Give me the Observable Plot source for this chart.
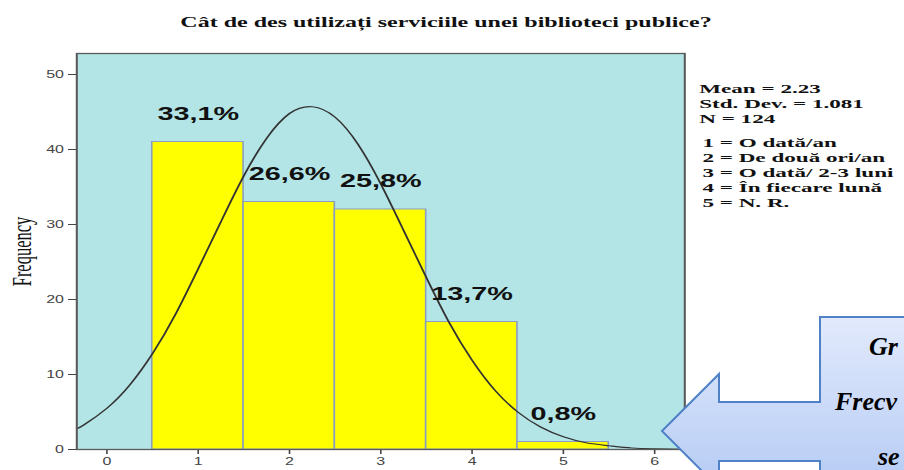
<!DOCTYPE html>
<html>
<head>
<meta charset="utf-8">
<script src="https://cdn.jsdelivr.net/npm/d3@7"></script>
<script src="https://cdn.jsdelivr.net/npm/@observablehq/plot@0.6"></script>
<style>
  html, body { margin: 0; padding: 0; background: #fff; width: 904px; height: 470px; overflow: hidden; }
  #page { position: relative; width: 904px; height: 470px; overflow: hidden; }
  #stretch { position: absolute; left: 0; top: 0; width: 565px; height: 470px; transform: scaleX(1.6); transform-origin: 0 0; }
  #chart { position: absolute; left: 0; top: 0; }
  #title { position: absolute; left: 0; width: 557.5px; top: 14px; line-height: 16px; text-align: center;
           font-family: "Liberation Serif", "DejaVu Serif", serif; font-weight: bold; font-size: 15px; color: #111; }
  .legend { position: absolute; font-family: "Liberation Serif", "DejaVu Serif", serif; font-weight: bold;
            font-size: 13.5px; line-height: 15px; color: #111; white-space: nowrap;
            transform: scaleX(1.07); transform-origin: 0 0; }
  #arrow { position: absolute; left: 0; top: 0; }
</style>
</head>
<body>
<div id="page">
  <div id="stretch">
    <div id="chart"></div>
    <div id="title"></div>
    <div class="legend" id="stats" style="left:437px; top:80.5px;"></div>
    <div class="legend" id="codes" style="left:438.5px; top:134.5px;"></div>
  </div>
  <svg id="arrow" width="904" height="470"></svg>
</div>
<script>
// ---- data ----
const titleText = "Cât de des utilizați serviciile unei biblioteci publice?";
const categories = [1, 2, 3, 4, 5];
const counts = [41, 33, 32, 17, 1];
const percentLabels = ["33,1%", "26,6%", "25,8%", "13,7%", "0,8%"];
const xTicks = [0, 1, 2, 3, 4, 5, 6];
const yTicks = [0, 10, 20, 30, 40, 50];
const yLabel = "Frequency";
const statsLines = ["Mean = 2.23", "Std. Dev. = 1.081", "N = 124"];
const codeLines = ["1 = O dată/an", "2 = De două ori/an", "3 = O dată/ 2-3 luni", "4 = În fiecare lună", "5 = N. R."];
// normal curve
const curveX = [-0.33, -0.25, 0, 0.25, 0.5, 0.75, 1, 1.25, 1.5, 1.75, 2, 2.25, 2.5, 2.75, 3, 3.25, 3.5, 3.75, 4, 4.25, 4.5, 4.75, 5, 5.25, 5.5, 5.75, 6, 6.33];
const curveY = [2.8, 3.3, 5.5, 8.6, 12.8, 18.0, 24.1, 30.4, 36.5, 41.5, 44.8, 45.7, 44.3, 40.7, 35.4, 29.2, 22.9, 16.9, 11.9, 7.9, 5.0, 3.0, 1.7, 0.9, 0.5, 0.2, 0.1, 0.03];
const calloutLines = ["Gr", "Frecv", "se"];

// ---- build tables ----
const bars = categories.map((c, i) => ({cat: c, count: counts[i], label: percentLabels[i]}));
const curve = curveX.map((x, i) => ({x, y: curveY[i]}));

const chart = Plot.plot({
  width: 565,
  height: 470,
  marginLeft: 47.5,
  marginRight: 137.5,
  marginTop: 53,
  marginBottom: 21,
  style: {fontFamily: "'Liberation Sans', Arial, sans-serif", fontSize: "10px", color: "#444", background: "transparent"},
  x: {domain: [-0.33, 6.33], ticks: xTicks, tickSize: 5, tickPadding: 3, tickFormat: d => String(d), label: null},
  y: {domain: [0, 52.8], ticks: yTicks, tickSize: 5, tickPadding: 3, tickFormat: d => String(d), label: null},
  marks: [
    Plot.frame({fill: "#b3e5e7", stroke: null}),
    Plot.rectY(bars, {x1: d => d.cat - 0.5, x2: d => d.cat + 0.5, y: "count", fill: "#ffff00", stroke: "#8b9dc0", strokeWidth: 1}),
    Plot.line(curve, {x: "x", y: "y", stroke: "#333", strokeWidth: 1.2, curve: "natural"}),
    Plot.text(bars, {x: "cat", y: "count", text: "label", dy: -28, fill: "#111", fontSize: 18, fontWeight: "bold",
                     fontFamily: "'Liberation Sans', Arial, sans-serif"}),
    Plot.text([yLabel], {frameAnchor: "left", textAnchor: "middle", rotate: -90, dx: -34, fill: "#111", fontSize: 16.5,
                         fontFamily: "'Liberation Serif', 'Times New Roman', serif"}),
    Plot.frame({stroke: "#5a5a5a", strokeWidth: 1.3})
  ]
});
document.getElementById("chart").appendChild(chart);

document.getElementById("title").textContent = titleText;
document.getElementById("stats").innerHTML = statsLines.map(s => `<div>${s}</div>`).join("");
document.getElementById("codes").innerHTML = codeLines.map(s => `<div>${s}</div>`).join("");

// ---- decorative callout arrow (not data) ----
const svg = d3.select("#arrow");
const defs = svg.append("defs");
const grad = defs.append("linearGradient").attr("id", "g").attr("x1", 0).attr("y1", 0).attr("x2", 0).attr("y2", 1);
grad.append("stop").attr("offset", "0%").attr("stop-color", "#e2eafc");
grad.append("stop").attr("offset", "100%").attr("stop-color", "#b2c9f4");
svg.append("rect").attr("x", 719).attr("y", 461).attr("width", 101).attr("height", 20)
  .attr("fill", "#fff").attr("stroke", "#9a9a9a").attr("stroke-width", 2).attr("stroke-dasharray", "1,1");
svg.append("polygon")
  .attr("points", "662,431 719,374 719,402 820,402 820,317 915,317 915,500 820,500 820,461 719,461 719,488")
  .attr("fill", "url(#g)").attr("stroke", "#4f81c7").attr("stroke-width", 2);
const ct = [[869, 355], [835, 410], [878, 465]];
calloutLines.forEach((t, i) => {
  svg.append("text").attr("x", ct[i][0]).attr("y", ct[i][1]).text(t)
    .attr("font-family", "'Liberation Serif', 'Times New Roman', serif")
    .attr("font-style", "italic").attr("font-weight", "bold").attr("font-size", 26).attr("fill", "#000");
});
</script>
</body>
</html>
